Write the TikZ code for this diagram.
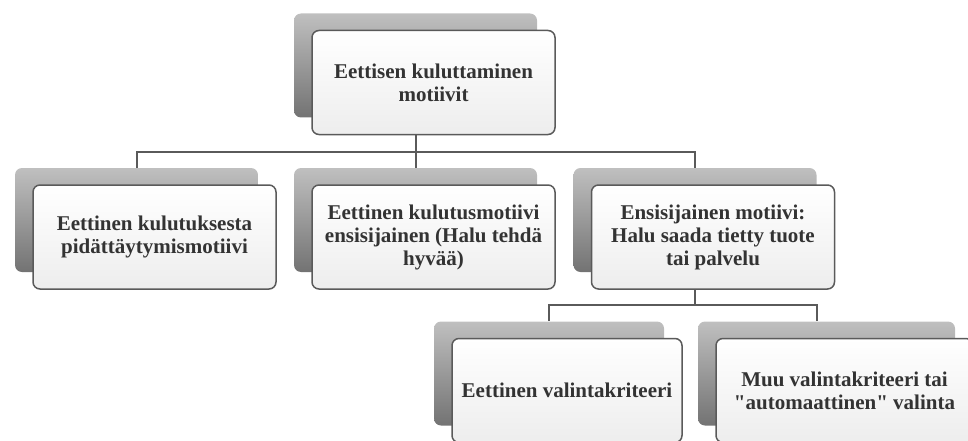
\documentclass[tikz,border=0pt]{standalone}
\usepackage{fontspec}
\setmainfont{Liberation Serif}
\newfontfamily\plainq[Ligatures=ResetAll]{Liberation Serif}
\newcommand{\sq}{{\plainq\bfseries\symbol{34}}}
\usetikzlibrary{positioning}
\definecolor{txtgray}{HTML}{333333}
\definecolor{linegray}{HTML}{5A5A5A}
\tikzset{
  backbox/.style={rounded corners=7pt, minimum height=104pt, inner sep=0pt, top color=black!25, bottom color=black!55},
  frontbox/.style={rounded corners=7pt, minimum height=104pt, inner sep=0pt, draw=linegray, line width=1.5pt, top color=white, bottom color=black!7, align=center, font=\bfseries\fontsize{21}{23}\selectfont, text=txtgray},
  link/.style={draw=linegray, line width=2pt}
}
\begin{document}
\begin{tikzpicture}[x=1pt,y=-1pt]
\useasboundingbox (0,0) rectangle (968,441);
% shadows first
\node[backbox, minimum width=243pt] (topS) at (415.5,65.5) {};
\node[backbox, minimum width=243pt] (leftS) at (136.5,220) {};
\node[backbox, minimum width=243pt] (midS) at (415.5,220) {};
\node[backbox, minimum width=243pt] (rightS) at (695,220) {};
\node[backbox, minimum width=230pt] (blS) at (549,373.5) {};
\node[backbox, minimum width=257pt] (brS) at (826.5,373.5) {};
% boxes
\node[frontbox, minimum width=243pt] (top) at ([xshift=18pt,yshift=-17pt]topS.center) {Eettisen kuluttaminen\\motiivit};
\node[frontbox, minimum width=243pt] (left) at ([xshift=18pt,yshift=-17pt]leftS.center) {Eettinen kulutuksesta\\pidättäytymismotiivi};
\node[frontbox, minimum width=243pt] (mid) at ([xshift=18pt,yshift=-17pt]midS.center) {Eettinen kulutusmotiivi\\ensisijainen (Halu tehdä\\hyvää)};
\node[frontbox, minimum width=243pt] (right) at ([xshift=18pt,yshift=-17pt]rightS.center) {Ensisijainen motiivi:\\Halu saada tietty tuote\\tai palvelu};
\node[frontbox, minimum width=230pt] (bl) at ([xshift=18pt,yshift=-17pt]blS.center) {Eettinen valintakriteeri};
\node[frontbox, minimum width=257pt] (br) at ([xshift=18pt,yshift=-17pt]brS.center) {Muu valintakriteeri tai\\\sq automaattinen\sq{} valinta};
% connectors
\coordinate (bus1) at (415.5,152);
\coordinate (bus2) at (695,305);
\draw[link] (topS.south |- top.south) -- (bus1) -| (leftS.north);
\draw[link] (bus1) -- (midS.north);
\draw[link] (bus1) -| (rightS.north);
\draw[link] (rightS.south |- right.south) -- (bus2) -| (blS.north);
\draw[link] (bus2) -| ([xshift=-10pt]brS.north);
\end{tikzpicture}
\end{document}
